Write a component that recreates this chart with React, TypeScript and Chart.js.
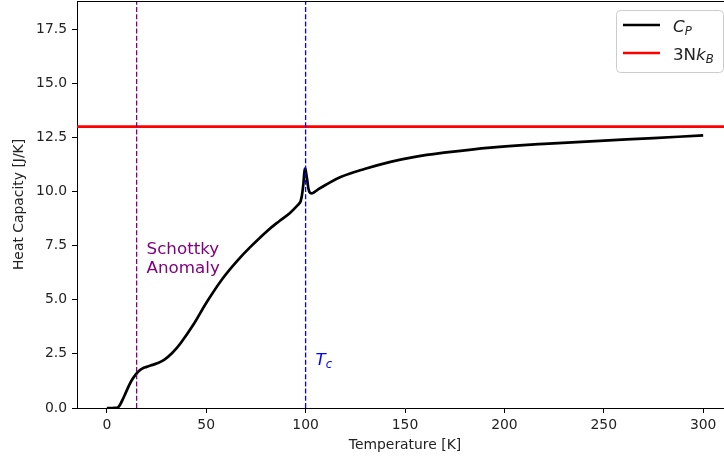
import React, { useEffect, useRef } from "react";
import { Chart, registerables } from "chart.js";

Chart.register(...registerables);

// ---- data ----
const TEMPERATURE = [
  0, 3, 5.5, 7.5, 9.5, 11.5, 13, 14.6, 16, 18, 20, 22, 25, 28.8, 33, 37.2, 43.9, 50, 58, 65.6,
  72, 80.7, 87, 92, 95.8, 97.5, 98.7, 99.7, 100.7, 101.8, 103.4, 106, 110, 117.6, 130, 142.7,
  155, 167.8, 193, 220, 248, 275, 300,
];
const HEAT_CAPACITY = [
  0, 0, 0.02, 0.3, 0.7, 1.1, 1.35, 1.55, 1.7, 1.83, 1.9, 1.96, 2.05, 2.22, 2.55, 3.0, 3.9, 4.85,
  5.95, 6.8, 7.42, 8.18, 8.65, 9.0, 9.35, 9.55, 10.2, 11.05, 10.6, 10.0, 9.92, 10.08, 10.3, 10.67,
  11.05, 11.37, 11.6, 11.77, 12.03, 12.2, 12.34, 12.47, 12.59,
];
const DULONG_PETIT = 13.0;
const SCHOTTKY_T = 15;
const CRITICAL_T = 100;
const X_LIMITS = [-15, 315];
const Y_LIMITS = [0, 18.8];
const X_TICKS = [0, 50, 100, 150, 200, 250, 300];
const Y_TICKS = [0, 2.5, 5, 7.5, 10, 12.5, 15, 17.5];
const SCHOTTKY_LABEL = ["Schottky", "Anomaly"];
const SCHOTTKY_POS = [20, 6.25];
const TC_POS = [105, 2];

const FAMILY = "'DejaVu Sans', 'Noto Sans', sans-serif";
const TEXT = "#222";
const BIG = 16.7;
const SUB = 11.7;

type Part = { t: string; italic?: boolean; sub?: boolean };

function drawMath(ctx: CanvasRenderingContext2D, parts: Part[], x: number, y: number, color: string) {
  let cx = x;
  ctx.fillStyle = color;
  ctx.textBaseline = "alphabetic";
  ctx.textAlign = "left";
  for (const p of parts) {
    const size = p.sub ? SUB : BIG;
    ctx.font = `${p.italic ? "italic " : ""}${size}px ${FAMILY}`;
    ctx.fillText(p.t, cx, y + (p.sub ? 3 : 0));
    cx += ctx.measureText(p.t).width;
  }
}

const overlayPlugin = {
  id: "overlay",
  afterDatasetsDraw(chart: any) {
    const { ctx, chartArea } = chart;
    const xs = chart.scales.x;
    const ys = chart.scales.y;
    ctx.save();
    // top & right spines
    ctx.strokeStyle = "#000";
    ctx.lineWidth = 1;
    ctx.beginPath();
    ctx.moveTo(chartArea.left, chartArea.top + 0.5);
    ctx.lineTo(chartArea.right, chartArea.top + 0.5);
    ctx.moveTo(chartArea.right - 0.5, chartArea.top);
    ctx.lineTo(chartArea.right - 0.5, chartArea.bottom);
    ctx.stroke();

    // Schottky annotation
    ctx.font = `${BIG}px ${FAMILY}`;
    ctx.fillStyle = "#800080";
    ctx.textAlign = "left";
    ctx.textBaseline = "alphabetic";
    const sx = xs.getPixelForValue(SCHOTTKY_POS[0]);
    const sy = ys.getPixelForValue(SCHOTTKY_POS[1]);
    const n = SCHOTTKY_LABEL.length;
    SCHOTTKY_LABEL.forEach((line, i) => {
      ctx.fillText(line, sx, sy - (n - 1 - i) * 18.8);
    });

    // T_c annotation
    drawMath(
      ctx,
      [{ t: "T", italic: true }, { t: "c", italic: true, sub: true }],
      xs.getPixelForValue(TC_POS[0]),
      ys.getPixelForValue(TC_POS[1]),
      "#0000ff"
    );

    // legend
    const bw = 107, bh = 62;
    const bx = chartArea.right - 10 - bw;
    const by = chartArea.top + 9;
    ctx.beginPath();
    (ctx as any).roundRect(bx + 0.5, by + 0.5, bw, bh, 4);
    ctx.fillStyle = "rgba(255,255,255,0.8)";
    ctx.fill();
    ctx.strokeStyle = "#cccccc";
    ctx.lineWidth = 1;
    ctx.stroke();

    const entries = [
      { color: "#000000", parts: [{ t: "C", italic: true }, { t: "P", italic: true, sub: true }] },
      { color: "#ff0000", parts: [{ t: "3N" }, { t: "k", italic: true }, { t: "B", italic: true, sub: true }] },
    ];
    entries.forEach((e, i) => {
      const ly = by + 15 + i * 28;
      ctx.strokeStyle = e.color;
      ctx.lineWidth = 2.7;
      ctx.beginPath();
      ctx.moveTo(bx + 7, ly);
      ctx.lineTo(bx + 44, ly);
      ctx.stroke();
      drawMath(ctx, e.parts as Part[], bx + 57, ly + 6.7, TEXT);
    });
    ctx.restore();
  },
};

export default function App() {
  const ref = useRef<HTMLCanvasElement | null>(null);

  useEffect(() => {
    if (!ref.current) return;
    const cp = TEMPERATURE.map((t, i) => ({ x: t, y: HEAT_CAPACITY[i] }));
    const chart = new Chart(ref.current, {
      type: "scatter",
      data: {
        datasets: [
          {
            label: "Schottky",
            data: [
              { x: SCHOTTKY_T, y: Y_LIMITS[0] },
              { x: SCHOTTKY_T, y: Y_LIMITS[1] },
            ],
            showLine: true,
            borderColor: "#800080",
            borderWidth: 1.3,
            borderDash: [5, 2.2],
            pointRadius: 0,
          },
          {
            label: "Tc",
            data: [
              { x: CRITICAL_T, y: Y_LIMITS[0] },
              { x: CRITICAL_T, y: Y_LIMITS[1] },
            ],
            showLine: true,
            borderColor: "#0000ff",
            borderWidth: 1.3,
            borderDash: [5, 2.2],
            pointRadius: 0,
          },
          {
            label: "3NkB",
            data: [
              { x: X_LIMITS[0], y: DULONG_PETIT },
              { x: X_LIMITS[1], y: DULONG_PETIT },
            ],
            showLine: true,
            borderColor: "#ff0000",
            borderWidth: 2.7,
            pointRadius: 0,
          },
          {
            label: "CP",
            data: cp,
            showLine: true,
            borderColor: "#000000",
            borderWidth: 2.7,
            pointRadius: 0,
            tension: 0.4,
          },
        ],
      },
      options: {
        animation: false,
        responsive: false,
        devicePixelRatio: 1,
        layout: { autoPadding: false, padding: { left: 0, top: 1, right: 27, bottom: 0 } },
        plugins: { legend: { display: false }, tooltip: { enabled: false } },
        scales: {
          x: {
            type: "linear",
            min: X_LIMITS[0],
            max: X_LIMITS[1],
            afterBuildTicks: (s: any) => {
              s.ticks = X_TICKS.map((v) => ({ value: v }));
            },
            afterFit: (s: any) => {
              s.height = 49;
              s.paddingLeft = 0;
              s.paddingRight = 0;
            },
            grid: { display: true, drawOnChartArea: false, drawTicks: true, tickLength: 5, color: "#000", tickColor: "#000" },
            border: { display: true, color: "#000", width: 1 },
            ticks: {
              color: TEXT,
              font: { family: FAMILY, size: 13.9 },
              padding: 4,
              maxRotation: 0,
              autoSkip: false,
              callback: (v: any) => String(v),
            },
            title: {
              display: true,
              text: "Temperature [K]",
              color: TEXT,
              font: { family: FAMILY, size: 13.9 },
              padding: { top: 0, bottom: 3 },
            },
          },
          y: {
            type: "linear",
            min: Y_LIMITS[0],
            max: Y_LIMITS[1],
            afterBuildTicks: (s: any) => {
              s.ticks = Y_TICKS.map((v) => ({ value: v }));
            },
            afterFit: (s: any) => {
              s.width = 77;
              s.paddingTop = 0;
              s.paddingBottom = 0;
            },
            grid: { display: true, drawOnChartArea: false, drawTicks: true, tickLength: 5, color: "#000", tickColor: "#000" },
            border: { display: true, color: "#000", width: 1 },
            ticks: {
              color: TEXT,
              font: { family: FAMILY, size: 13.9 },
              padding: 5,
              autoSkip: false,
              callback: (v: any) => Number(v).toFixed(1),
            },
            title: {
              display: true,
              text: "Heat Capacity [J/K]",
              color: TEXT,
              font: { family: FAMILY, size: 13.9 },
              padding: { top: 11, bottom: 0 },
            },
          },
        },
      },
      plugins: [overlayPlugin],
    } as any);
    return () => chart.destroy();
  }, []);

  return (
    <div
      style={{
        position: "fixed",
        left: 0,
        top: 0,
        width: 724,
        height: 457,
        overflow: "hidden",
        background: "#fff",
      }}
    >
      <canvas ref={ref} width={760} height={457} style={{ display: "block" }} />
    </div>
  );
}
